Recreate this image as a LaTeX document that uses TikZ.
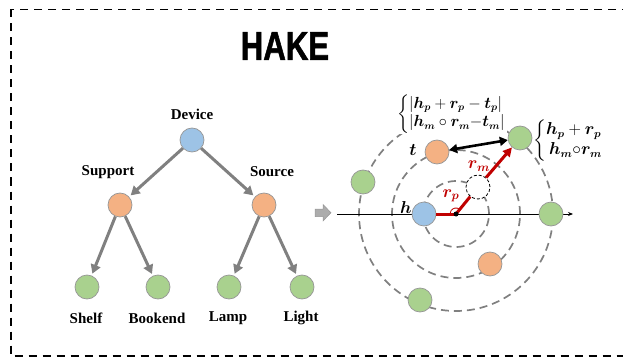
\documentclass[tikz,border=0pt]{standalone}
\usepackage{amsmath,bm}
\usepackage{fontspec}
\setmainfont{Liberation Serif}
\newfontfamily\titlefont[FakeBold=1.6]{Liberation Sans Bold}
\usetikzlibrary{arrows.meta,calc}

\definecolor{nodeblue}{RGB}{157,195,230}
\definecolor{nodeorange}{RGB}{244,177,131}
\definecolor{nodegreen}{RGB}{169,209,142}
\definecolor{rimgray}{RGB}{150,150,150}
\definecolor{edgegray}{RGB}{128,128,128}
\definecolor{vecred}{RGB}{192,0,0}

\tikzset{
  ent/.style={circle, minimum size=24pt, inner sep=0pt, draw=rimgray, line width=0.7pt},
  entblue/.style={ent, fill=nodeblue},
  entorange/.style={ent, fill=nodeorange},
  entgreen/.style={ent, fill=nodegreen},
  treearrow/.style={draw=edgegray, line width=3pt, -{Triangle[length=9pt,width=10pt]}, shorten >=2pt},
  treelabel/.style={font=\fontsize{15}{17}\selectfont\bfseries, inner sep=0pt},
  orbit/.style={draw=edgegray, dash pattern=on 8pt off 5pt, line width=1.7pt},
  vec/.style={draw=vecred, line width=3pt},
  mathlabel/.style={font=\fontsize{17}{19}\selectfont, inner sep=0pt},
  formula/.style={font=\fontsize{16}{18}\selectfont, inner sep=1pt, anchor=west},
  frame/.style={draw=black, dash pattern=on 8pt off 6pt, line width=1.6pt},
}

\begin{document}
\begin{tikzpicture}[x=1pt, y=-1pt]
\useasboundingbox (0,0) rectangle (623,358);

% outer dashed frame, running off the right edge
\begin{scope}
  \clip (0,0) rectangle (623,358);
  \draw[frame] (11,9.5) rectangle (660,356);
\end{scope}

% title
\node[font=\titlefont\fontsize{40}{40}\selectfont, xscale=0.78] (title) at (285,46) {HAKE};

% ---------------- hierarchy tree ----------------
\node[entblue]   (dev)  at (192,140) {};
\node[entorange] (sup)  at (120,205) {};
\node[entorange] (src)  at (264,205) {};
\node[entgreen]  (shelf) at (87,287) {};
\node[entgreen]  (book)  at (158,287) {};
\node[entgreen]  (lamp)  at (229,287) {};
\node[entgreen]  (light) at (302,287) {};

\node[treelabel] (ldev)   at (192,114) {Device};
\node[treelabel] (lsup)   at (108,172) {Support};
\node[treelabel] (lsrc)   at (272,172) {Source};
\node[treelabel] (lshelf) at (86,318)  {Shelf};
\node[treelabel] (lbook)  at (157,318) {Bookend};
\node[treelabel] (llamp)  at (228,318) {Lamp};
\node[treelabel] (llight) at (301,318) {Light};

\draw[treearrow] (dev) -- (sup);
\draw[treearrow] (dev) -- (src);
\draw[treearrow] (sup) -- (shelf);
\draw[treearrow] (sup) -- (book);
\draw[treearrow] (src) -- (lamp);
\draw[treearrow] (src) -- (light);

% block arrow between the two panels
\draw[draw=rimgray, fill=edgegray!65, line width=0.5pt]
  (315,209) -- (323,209) -- (323,204.5) -- (331,212.7) -- (323,221) -- (323,216.5) -- (315,216.5) -- cycle;

% ---------------- polar embedding ----------------
\coordinate (O) at (456,214);

\draw[orbit] (O) circle[radius=33pt];
\draw[orbit] (O) circle[radius=64pt];
\draw[orbit] (O) circle[radius=97pt];

% distance formulas (white box hides the top of the outer orbit)
\node[formula, fill=white, scale=0.93] (dist) at (396,114)
  {$\left\{\begin{array}{@{}l@{}}
     |\bm{h_p}+\bm{r_p}-\bm{t_p}|\\[2pt]
     |\bm{h_m}\circ\bm{r_m}{-}\bm{t_m}|
   \end{array}\right.$};
\node[formula] (proj) at (532,141)
  {$\left\{\begin{array}{@{}l@{}}
     \bm{h_p}+\bm{r_p}\\[2pt]
     \,\bm{h_m}{\circ}\bm{r_m}
   \end{array}\right.$};

\coordinate (axL) at (337,214);
\coordinate (axR) at (573,214);
\draw[line width=1pt, -{Stealth[length=5pt,width=4pt]}] (axL) -- (axR);

\node[entblue]   (h)  at (424,214) {};
\node[entorange] (t)  at (437,152) {};
\node[entgreen]  (g1) at (520,138) {};
\node[entgreen]  (g2) at (363,182) {};
\node[entgreen]  (g3) at (551,214) {};
\node[entorange] (o2) at (490,264) {};
\node[entgreen]  (g4) at (420,300) {};
\node[circle, minimum size=24pt, inner sep=0pt, draw=black, fill=white,
      dash pattern=on 3pt off 2pt, line width=0.8pt] (d) at (478,187) {};

% relation vectors
\draw[vec] (h.east) -- (O);
\draw[vec] (O) -- (d);
\draw[vec, -{Triangle[length=9pt,width=9pt]}] (d) -- (g1);
\draw[draw=vecred, line width=0.8pt] ($(O)+(55:6pt)$) arc[start angle=55, end angle=178, radius=6pt];
\fill[black] (O) circle[radius=2.5pt];

% distance between projected head and tail
\draw[line width=2.6pt, {Triangle[length=8pt,width=9pt]}-{Triangle[length=8pt,width=9pt]}] (t) -- (g1);

\node[mathlabel] (lh) at (406,207) {$\bm{h}$};
\node[mathlabel] (lt) at (413,150) {$\bm{t}$};
\node[mathlabel, text=vecred] (lrp) at (451,196) {$\bm{r_p}$};
\node[mathlabel, text=vecred] (lrm) at (479,166) {$\bm{r_m}$};
\end{tikzpicture}
\end{document}
